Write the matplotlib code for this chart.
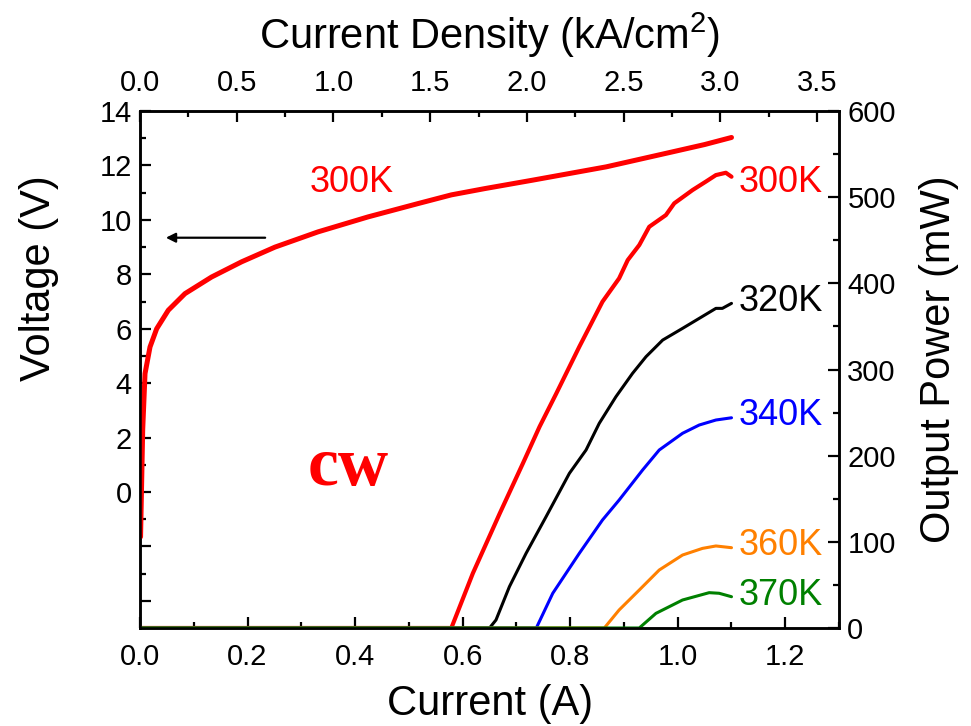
import numpy as np
import matplotlib
matplotlib.use('Agg')
import matplotlib.pyplot as plt
from matplotlib.ticker import MultipleLocator, FixedLocator, FuncFormatter

plt.rcParams['font.family'] = ['Liberation Sans', 'DejaVu Sans']
plt.rcParams['mathtext.fontset'] = 'custom'
plt.rcParams['mathtext.rm'] = 'Liberation Sans'
plt.rcParams['mathtext.it'] = 'Liberation Sans:italic'

# ---------------- data ----------------
# Voltage vs current (300 K)
iv_current = [0.001, 0.005, 0.0093, 0.0186, 0.031, 0.0526, 0.0836, 0.133, 0.189,
              0.251, 0.331, 0.424, 0.517, 0.579, 0.641, 0.730, 0.867, 0.990, 1.05, 1.10]
iv_voltage = [-1.65, 2.3, 4.35, 5.33, 6.0, 6.68, 7.29, 7.9, 8.46,
              9.0, 9.56, 10.11, 10.6, 10.92, 11.15, 11.46, 11.95, 12.5, 12.77, 13.03]

# Output power vs current
p300_i = [0.0, 0.579, 0.619, 0.669, 0.712, 0.743, 0.774, 0.817, 0.860, 0.891, 0.907,
          0.9285, 0.947, 0.978, 0.9935, 1.0275, 1.052, 1.071, 1.0895, 1.10]
p300_p = [0, 0, 63.5, 133, 191, 233.6, 272, 326.5, 378.7, 405.8, 427,
          444.5, 465.7, 479.3, 492.9, 508.3, 518, 525.7, 528.4, 523.8]

p320_i = [0.0, 0.650, 0.662, 0.687, 0.718, 0.755, 0.7985, 0.8295, 0.854, 0.885, 0.916,
          0.941, 0.972, 1.009, 1.040, 1.071, 1.083, 1.10]
p320_p = [0, 0, 9.3, 48, 86.7, 129, 179.5, 206.6, 237.5, 268.4, 295.6,
          314.9, 334.2, 347.8, 359.4, 371, 371, 376.8]

p340_i = [0.0, 0.737, 0.7676, 0.817, 0.860, 0.891, 0.9347, 0.9656, 1.009, 1.040, 1.071, 1.10]
p340_p = [0, 0, 40.3, 86.7, 125.3, 148.5, 183.4, 206.6, 226, 235.6, 241.4, 244]

p360_i = [0.0, 0.8635, 0.891, 0.9285, 0.9656, 1.009, 1.046, 1.071, 1.10]
p360_p = [0, 0, 20.9, 44.1, 67.3, 84.7, 92.4, 95.2, 93.2]

p370_i = [0.0, 0.9285, 0.9595, 1.009, 1.0585, 1.077, 1.10]
p370_p = [0, 0, 17, 32.5, 41, 40.3, 36.3]

temps = ['300K', '320K', '340K', '360K', '370K']
colors = ['#FF0000', '#000000', '#0000FF', '#FF8000', '#008000']

# current density per ampere (kA/cm^2 per A)
density_per_amp = 3.5 / 1.259

# ---------------- figure ----------------
fig = plt.figure(figsize=(9.71, 7.26), dpi=100)
ax = fig.add_axes([0.1442, 0.135, 0.7199, 0.712])
ax2 = ax.twinx()

ax.plot(iv_current, iv_voltage, color='#FF0000', lw=3.6, solid_capstyle='round',
        solid_joinstyle='round', zorder=3)

series = [(p300_i, p300_p), (p320_i, p320_p), (p340_i, p340_p), (p360_i, p360_p), (p370_i, p370_p)]
widths = [3.0, 2.2, 2.2, 2.2, 2.2]
for (xi, yi), c, w in zip(series, colors, widths):
    ax2.plot(xi, yi, color=c, lw=w, solid_capstyle='round', solid_joinstyle='round')

ax.set_xlim(0, 1.3)
ax.set_ylim(-5, 14)
ax2.set_ylim(0, 600)

tick_fs = 21
label_fs = 30

ax.xaxis.set_major_locator(MultipleLocator(0.2))
ax.xaxis.set_minor_locator(MultipleLocator(0.1))
ax.xaxis.set_major_formatter(FuncFormatter(lambda v, p: f'{v:.1f}'))
ax.yaxis.set_major_locator(FixedLocator([-4, -2, 0, 2, 4, 6, 8, 10, 12, 14]))
ax.yaxis.set_minor_locator(MultipleLocator(1))
ax.yaxis.set_major_formatter(FuncFormatter(lambda v, p: '' if v < 0 else f'{v:.0f}'))
ax2.yaxis.set_major_locator(MultipleLocator(100))
ax2.yaxis.set_minor_locator(MultipleLocator(50))

for a in (ax, ax2):
    a.tick_params(which='major', direction='in', length=8, width=1.6, labelsize=tick_fs, pad=6)
    a.tick_params(which='minor', direction='in', length=4, width=1.6)
    for s in a.spines.values():
        s.set_linewidth(1.8)

ax.tick_params(axis='x', which='both', top=False)
ax.tick_params(axis='x', which='major', pad=11)

sec = ax.secondary_xaxis('top', functions=(lambda x: x * density_per_amp,
                                           lambda d: d / density_per_amp))
sec.xaxis.set_major_locator(MultipleLocator(0.5))
sec.xaxis.set_minor_locator(MultipleLocator(0.25))
sec.xaxis.set_major_formatter(FuncFormatter(lambda v, p: f'{v:.1f}'))
sec.tick_params(which='major', direction='in', length=8, width=1.6, labelsize=tick_fs, pad=10)
sec.tick_params(which='minor', direction='in', length=4, width=1.6)

# axis titles placed in figure coordinates
fig.text(0.5046, 0.952, 'Current Density (kA/cm$^2$)', fontsize=label_fs, ha='center', va='center')
fig.text(0.5046, 0.030, 'Current (A)', fontsize=label_fs, ha='center', va='center')
fig.text(0.040, 0.617, 'Voltage (V)', fontsize=label_fs, ha='center', va='center', rotation=90)
fig.text(0.967, 0.505, 'Output Power (mW)', fontsize=label_fs, ha='center', va='center', rotation=90)

# annotations
ax.text(0.303, 0.861, '300K', color='#FF0000', fontsize=26, ha='center', va='center',
        transform=ax.transAxes)
right_y = [0.861, 0.631, 0.411, 0.159, 0.062]
for t, c, yy in zip(temps, colors, right_y):
    ax.text(0.857, yy, t, color=c, fontsize=26, ha='left', va='center', transform=ax.transAxes)

ax.text(0.298, 0.309, 'cw', color='#FF0000', fontsize=50, fontweight='bold',
        family='Liberation Serif', ha='center', va='center', transform=ax.transAxes)

ax.annotate('', xy=(0.033, 0.755), xytext=(0.183, 0.755), xycoords='axes fraction',
            textcoords='axes fraction',
            arrowprops=dict(arrowstyle='-|>', color='black', lw=1.6, mutation_scale=14))

fig.savefig('out.png', dpi=100)
